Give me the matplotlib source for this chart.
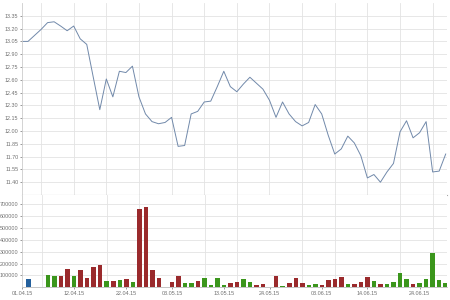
import matplotlib
matplotlib.use('Agg')
import matplotlib.pyplot as plt
from matplotlib.ticker import FixedLocator

# trading-day slots, -1 = first day on the axis
price_slots = list(range(-1, 65))
price = [13.05, 13.05, 13.12, 13.19, 13.27, 13.28, 13.23, 13.175, 13.23, 13.08,
         13.015, 12.63, 12.25, 12.61, 12.40, 12.70, 12.685, 12.76, 12.40, 12.20,
         12.11, 12.085, 12.10, 12.16, 11.82, 11.83, 12.20, 12.23, 12.34, 12.35,
         12.52, 12.70, 12.52, 12.46, 12.55, 12.63, 12.56, 12.49, 12.36, 12.16,
         12.34, 12.20, 12.11, 12.06, 12.10, 12.31, 12.20, 11.95, 11.73, 11.79,
         11.94, 11.86, 11.71, 11.45, 11.49, 11.40, 11.52, 11.62, 11.99, 12.12,
         11.92, 11.98, 12.11, 11.52, 11.53, 11.73]

vol_slots = list(range(0, 65))
volume = [68000, 0, 0, 104000, 93000, 96000, 158000, 93000, 144000, 76000,
          172000, 192000, 54000, 54000, 62000, 68000, 45000, 659000, 676000, 146000,
          82000, 0, 45000, 96000, 37000, 37000, 54000, 79000, 20000, 82000,
          20000, 37000, 45000, 68000, 45000, 20000, 25000, 0, 93000, 14000,
          34000, 82000, 37000, 20000, 31000, 17000, 59000, 70000, 87000, 28000,
          31000, 42000, 87000, 56000, 28000, 28000, 45000, 121000, 68000, 31000,
          39000, 68000, 293000, 59000, 37000]
# b = first day, g = up, r = down
vol_dir = "brrggrrgrrrrgrgrgrrrrrrrggrggggrrggrrrrgrrrggrrrrgrrrgrggggrggggg"

date_slots = [-1, 7, 15, 22, 30, 37, 45, 52, 60]
date_labels = ['01.04.15', '12.04.15', '22.04.15', '03.05.15', '13.05.15',
               '24.05.15', '03.06.15', '14.06.15', '24.06.15']
grid_slots = list(range(2, 65, 5))

price_ticks = [11.40, 11.55, 11.70, 11.85, 12.00, 12.15, 12.30, 12.45,
               12.60, 12.75, 12.90, 13.05, 13.20, 13.35]
vol_ticks = [100000, 200000, 300000, 400000, 500000, 600000, 700000]

colours = {'b': '#24609c', 'g': '#3b961c', 'r': '#9a2a2c'}
grid_c = '#e3e3e3'
label_c = '#707070'
fs = 3.9
plt.rcParams['font.family'] = ['Liberation Sans', 'DejaVu Sans']

fig = plt.figure(figsize=(4.5, 3), dpi=100)

ax1 = fig.add_axes([22 / 450, 105 / 300, 425 / 450, 192 / 300])
ax1.plot(price_slots, price, color='#7189aa', linewidth=0.7)
ax1.set_xlim(-0.92, 64.2)
ax1.set_ylim(11.25, 13.50)
ax1.set_yticks(price_ticks)
ax1.set_yticklabels(['%.2f' % p for p in price_ticks])
ax1.xaxis.set_major_locator(FixedLocator(grid_slots))
ax1.tick_params(axis='x', bottom=False, labelbottom=False)
ax1.tick_params(axis='y', labelsize=fs, colors=label_c, length=1.5, pad=1,
                width=0.5)
ax1.grid(True, color=grid_c, linewidth=0.6)
for s in ['top', 'right']:
    ax1.spines[s].set_visible(False)
ax1.spines['left'].set_color('#cccccc')
ax1.spines['left'].set_linewidth(0.6)
ax1.spines['bottom'].set_color('#a8a8a8')
ax1.spines['bottom'].set_linewidth(0.8)

ax2 = fig.add_axes([22 / 450, 12.7 / 300, 425 / 450, 92.3 / 300])
ax2.bar(vol_slots, volume, width=0.69, color=[colours[c] for c in vol_dir],
        zorder=3)
ax2.set_xlim(-0.92, 64.2)
ax2.set_ylim(0, 780000)
ax2.set_yticks(vol_ticks)
ax2.set_yticklabels([str(v) for v in vol_ticks])
ax2.set_xticks(date_slots)
ax2.set_xticklabels(date_labels)
ax2.xaxis.set_minor_locator(FixedLocator(grid_slots))
ax2.tick_params(axis='both', labelsize=fs, colors=label_c, length=1.5, pad=1,
                width=0.5)
ax2.tick_params(axis='x', which='minor', length=0)
ax2.grid(True, axis='y', color=grid_c, linewidth=0.6, zorder=0)
ax2.grid(True, axis='x', which='minor', color=grid_c, linewidth=0.6, zorder=0)
for s in ['top', 'right']:
    ax2.spines[s].set_visible(False)
ax2.spines['left'].set_color('#cccccc')
ax2.spines['left'].set_linewidth(0.6)
ax2.spines['bottom'].set_color('#bbbbbb')
ax2.spines['bottom'].set_linewidth(0.6)

fig.savefig('out.png', dpi=100, facecolor='white')
